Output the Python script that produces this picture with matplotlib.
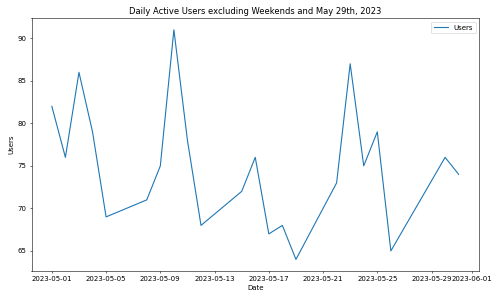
import matplotlib
matplotlib.use("Agg")
import matplotlib.pyplot as plt
import pandas as pd

dates = ["2023-05-01", "2023-05-02", "2023-05-03", "2023-05-04", "2023-05-05",
         "2023-05-08", "2023-05-09", "2023-05-10", "2023-05-11", "2023-05-12",
         "2023-05-15", "2023-05-16", "2023-05-17", "2023-05-18", "2023-05-19",
         "2023-05-22", "2023-05-23", "2023-05-24", "2023-05-25", "2023-05-26",
         "2023-05-30", "2023-05-31"]
users = [82, 76, 86, 79, 69,
         71, 75, 91, 78, 68,
         72, 76, 67, 68, 64,
         73, 87, 75, 79, 65,
         76, 74]

x = pd.to_datetime(dates)
fig, ax = plt.subplots(figsize=(10, 6), dpi=50)
ax.plot(x, users, label="Users", color="#1f77b4", linewidth=1.6)
ax.set_title("Daily Active Users excluding Weekends and May 29th, 2023")
ax.set_xlabel("Date")
ax.set_ylabel("Users")
ax.legend(loc="upper right")
fig.subplots_adjust(left=0.063, right=0.958, bottom=0.097, top=0.939)
fig.savefig("out.png", dpi=50)
